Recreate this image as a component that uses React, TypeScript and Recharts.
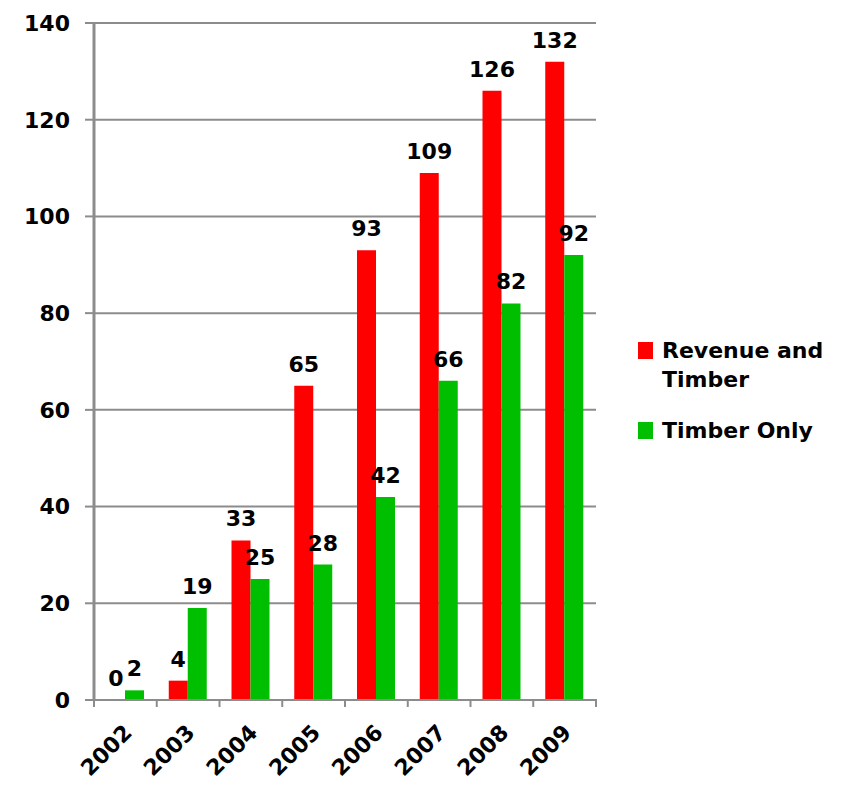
import { BarChart, Bar, XAxis, YAxis, CartesianGrid, LabelList, ReferenceDot } from "recharts";

const years = ["2002", "2003", "2004", "2005", "2006", "2007", "2008", "2009"];
const revenueAndTimber = [0, 4, 33, 65, 93, 109, 126, 132];
const timberOnly = [2, 19, 25, 28, 42, 66, 82, 92];
const yTicks = [0, 20, 40, 60, 80, 100, 120, 140];

const RED = "#ff0000";
const GREEN = "#00bf00";
const GRID = "#8c8c8c";
const FONT = "'DejaVu Sans', Verdana, sans-serif";

const data = years.map((year, i) => ({
  year,
  revenue: revenueAndTimber[i],
  timber: timberOnly[i],
}));

const BAND = 502 / years.length;
const BAR = 19;

function YearTick(props: any) {
  const { x, y, payload, index } = props;
  const half = BAND / 2;
  return (
    <g>
      <line x1={x - half} y1={y - 9} x2={x - half} y2={y - 1} stroke={GRID} strokeWidth={2} />
      {index === years.length - 1 && (
        <line x1={x + half} y1={y - 9} x2={x + half} y2={y - 1} stroke={GRID} strokeWidth={2} />
      )}
      <text
        x={x + 8}
        y={y + 26}
        textAnchor="end"
        fontFamily={FONT}
        fontWeight="bold"
        fontSize={22}
        fill="#000"
        transform={`rotate(-45, ${x + 8}, ${y + 26})`}
      >
        {payload.value}
      </text>
    </g>
  );
}

function ValueLabel(props: any) {
  const { x, y, width, value } = props;
  return (
    <text
      x={Number(x) + Number(width) / 2}
      y={Number(y) - 14}
      textAnchor="middle"
      fontFamily={FONT}
      fontWeight="bold"
      fontSize={22}
      fill="#000"
    >
      {value}
    </text>
  );
}

// zero-height bars get no rectangle, so their labels are placed via a reference dot
function ZeroLabel(props: any) {
  const vb = props.viewBox || {};
  const cx = Number(vb.x) + Number(vb.width || 0) / 2;
  const cy = Number(vb.y) + Number(vb.height || 0) / 2;
  return (
    <text x={cx - BAR / 2} y={cy - 14} textAnchor="middle" fontFamily={FONT} fontWeight="bold" fontSize={22} fill="#000">
      0
    </text>
  );
}

function LegendBox() {
  const row = { display: "flex", alignItems: "flex-start", marginBottom: 22 } as const;
  const swatch = (c: string) => ({ width: 15, height: 17, background: c, marginTop: 6, marginRight: 9, flex: "none" });
  return (
    <div
      style={{
        position: "absolute",
        left: 638,
        top: 336,
        fontFamily: FONT,
        fontWeight: "bold",
        fontSize: 22,
        lineHeight: "29px",
        color: "#000",
        whiteSpace: "nowrap",
      }}
    >
      <div style={row}>
        <div style={swatch(RED)} />
        <div>Revenue and<br />Timber</div>
      </div>
      <div style={row}>
        <div style={swatch(GREEN)} />
        <div>Timber Only</div>
      </div>
    </div>
  );
}

export default function App() {
  return (
    <div style={{ position: "absolute", left: 0, top: 0, width: 841, height: 792, background: "#fff" }}>
      <BarChart
        width={841}
        height={792}
        data={data}
        margin={{ top: 23, right: 245, bottom: 0, left: 0 }}
        barGap={0}
        barSize={BAR}
      >
        <CartesianGrid vertical={false} stroke={GRID} strokeWidth={2} />
        <XAxis
          dataKey="year"
          height={92}
          axisLine={{ stroke: GRID, strokeWidth: 2 }}
          tickLine={false}
          interval={0}
          tick={<YearTick />}
        />
        <YAxis
          width={94}
          domain={[0, 140]}
          ticks={yTicks}
          interval={0}
          axisLine={{ stroke: GRID, strokeWidth: 3 }}
          tickLine={{ stroke: GRID, strokeWidth: 2 }}
          tickSize={9}
          tickMargin={15}
          tick={{ fontFamily: FONT, fontWeight: "bold", fontSize: 22, fill: "#000" }}
        />
        <Bar dataKey="revenue" name="Revenue and Timber" fill={RED} isAnimationActive={false}>
          <LabelList dataKey="revenue" content={<ValueLabel />} />
        </Bar>
        <Bar dataKey="timber" name="Timber Only" fill={GREEN} isAnimationActive={false}>
          <LabelList dataKey="timber" content={<ValueLabel />} />
        </Bar>
        {data
          .filter((d) => d.revenue === 0)
          .map((d) => (
            <ReferenceDot
              key={d.year}
              x={d.year}
              y={0}
              r={0}
              fill="none"
              stroke="none"
              ifOverflow="visible"
              label={<ZeroLabel />}
            />
          ))}
      </BarChart>
      <LegendBox />
    </div>
  );
}
